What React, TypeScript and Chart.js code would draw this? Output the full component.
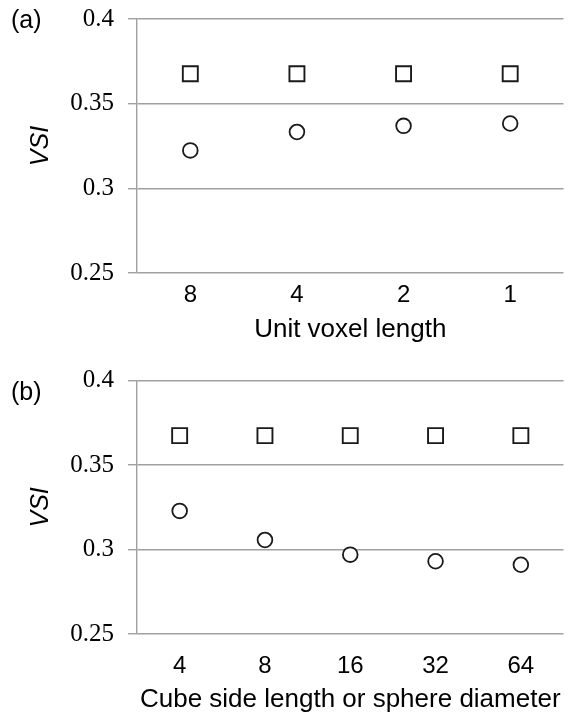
import { useEffect, useRef } from 'react';
import { Chart, registerables } from 'chart.js';

Chart.register(...registerables);

// ---- data ----
const categoriesA = ['8', '4', '2', '1'];
const squaresA = [0.3677, 0.3677, 0.3677, 0.3677];
const circlesA = [0.3224, 0.3333, 0.3369, 0.3383];

const categoriesB = ['4', '8', '16', '32', '64'];
const squaresB = [0.3675, 0.3675, 0.3675, 0.3675, 0.3675];
const circlesB = [0.3229, 0.3057, 0.297, 0.2931, 0.291];

const yTickValues = [0.25, 0.3, 0.35, 0.4];
const yTickLabels = ['0.25', '0.3', '0.35', '0.4'];
const yAxisTitle = 'VSI';
const xTitleA = 'Unit voxel length';
const xTitleB = 'Cube side length or sphere diameter';
const panelLabels = ['(a)', '(b)'];

const SANS = '"Liberation Sans", Arial, sans-serif';
const SERIF = '"Liberation Serif", "Times New Roman", serif';
const INK = '#1a1a1a';
const GRID = '#a0a0a0';

type PanelCfg = {
  categories: string[];
  squares: number[];
  circles: number[];
  xTitle: string;
  label: string;
  height: number;
  padTop: number;
  xHeight: number;
  xTickPad: number;
  xTitlePadBottom: number;
  labelY: number;
};

function buildChart(canvas: HTMLCanvasElement, cfg: PanelCfg) {
  const panelLabelPlugin = {
    id: 'panelLabel',
    afterDraw(chart: any) {
      const ctx = chart.ctx;
      ctx.save();
      ctx.font = `25px ${SANS}`;
      ctx.fillStyle = '#000';
      ctx.textAlign = 'left';
      ctx.textBaseline = 'alphabetic';
      ctx.fillText(cfg.label, 11, cfg.labelY);
      ctx.restore();
    },
  };

  return new Chart(canvas, {
    type: 'line',
    data: {
      labels: cfg.categories,
      datasets: [
        {
          data: cfg.squares,
          showLine: false,
          pointStyle: 'rect',
          pointRadius: 10.6,
          pointHoverRadius: 10.6,
          borderColor: INK,
          backgroundColor: '#fff',
          pointBorderWidth: 1.9,
          borderWidth: 1.9,
        },
        {
          data: cfg.circles,
          showLine: false,
          pointStyle: 'circle',
          pointRadius: 7.35,
          pointHoverRadius: 7.35,
          borderColor: INK,
          backgroundColor: '#fff',
          pointBorderWidth: 1.8,
          borderWidth: 1.8,
        },
      ],
    },
    options: {
      animation: false,
      responsive: false,
      events: [],
      layout: { padding: { top: cfg.padTop, left: 0, right: 0, bottom: 0 } },
      plugins: {
        legend: { display: false },
        tooltip: { enabled: false },
      },
      scales: {
        x: {
          type: 'category',
          offset: true,
          grid: { display: false, drawTicks: false },
          border: { display: false },
          ticks: {
            padding: cfg.xTickPad,
            color: '#000',
            font: { family: SANS, size: 24 },
            maxRotation: 0,
            autoSkip: false,
          },
          title: {
            display: true,
            text: cfg.xTitle,
            color: '#000',
            font: { family: SANS, size: 26 },
            padding: { top: 0, bottom: cfg.xTitlePadBottom },
          },
          afterFit: (s: any) => {
            s.height = cfg.xHeight;
            s.paddingLeft = 0;
            s.paddingRight = 0;
          },
        },
        y: {
          type: 'linear',
          min: 0.25,
          max: 0.4,
          afterBuildTicks: (s: any) => {
            s.ticks = yTickValues.map((v) => ({ value: v }));
          },
          grid: { color: GRID, lineWidth: 1.4, drawTicks: true, tickLength: 9 },
          border: { display: true, color: GRID, width: 1.4 },
          ticks: {
            padding: 14,
            color: '#000',
            font: { family: SERIF, size: 25 },
            callback: (v: any) => yTickLabels[yTickValues.indexOf(Number(v))] ?? '',
          },
          title: {
            display: true,
            text: yAxisTitle,
            color: '#000',
            font: { family: SANS, size: 25, style: 'italic' },
            padding: { top: 26, bottom: 0 },
          },
          afterFit: (s: any) => {
            s.width = 137;
            s.paddingTop = 0;
            s.paddingBottom = 0;
          },
        },
      },
    },
    plugins: [panelLabelPlugin],
  } as any);
}

const panelA: PanelCfg = {
  categories: categoriesA,
  squares: squaresA,
  circles: circlesA,
  xTitle: xTitleA,
  label: panelLabels[0],
  height: 345,
  padTop: 19,
  xHeight: 72,
  xTickPad: 7.6,
  xTitlePadBottom: 0,
  labelY: 28,
};

const panelB: PanelCfg = {
  categories: categoriesB,
  squares: squaresB,
  circles: circlesB,
  xTitle: xTitleB,
  label: panelLabels[1],
  height: 372,
  padTop: 35.7,
  xHeight: 83,
  xTickPad: 18,
  xTitlePadBottom: 1.4,
  labelY: 55,
};

const CANVAS_W = 576;

export default function App() {
  const refA = useRef<HTMLCanvasElement>(null);
  const refB = useRef<HTMLCanvasElement>(null);

  useEffect(() => {
    const a = buildChart(refA.current!, panelA);
    const b = buildChart(refB.current!, panelB);
    return () => {
      a.destroy();
      b.destroy();
    };
  }, []);

  return (
    <div
      style={{
        position: 'fixed',
        left: 0,
        top: 0,
        width: 571,
        height: 717,
        overflow: 'hidden',
        background: '#fff',
      }}
    >
      <canvas
        ref={refA}
        width={CANVAS_W}
        height={panelA.height}
        style={{ position: 'absolute', left: 0, top: 0, width: CANVAS_W, height: panelA.height }}
      />
      <canvas
        ref={refB}
        width={CANVAS_W}
        height={panelB.height}
        style={{ position: 'absolute', left: 0, top: panelA.height, width: CANVAS_W, height: panelB.height }}
      />
    </div>
  );
}
